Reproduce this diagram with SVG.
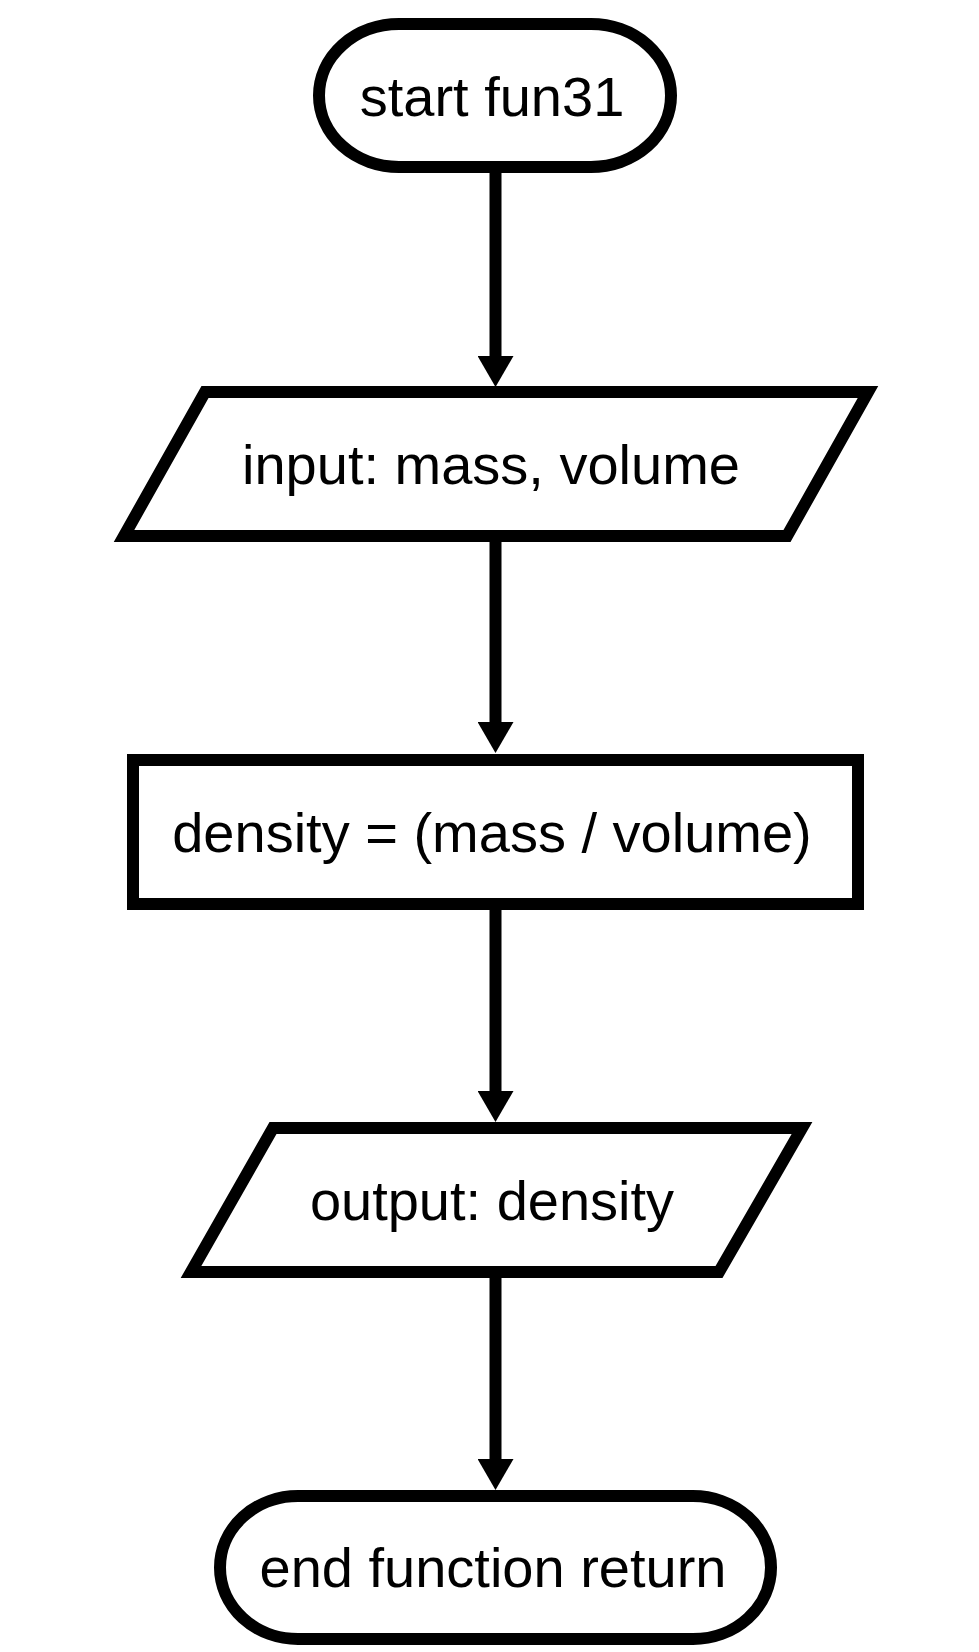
<svg xmlns="http://www.w3.org/2000/svg" width="979" height="1652" viewBox="0 0 979 1652">
<style>
.shape{fill:#ffffff;stroke:#000000;stroke-width:12;stroke-linejoin:miter}
.lbl{font-family:"Liberation Sans",Arial,sans-serif;font-size:56px;fill:#000000;text-anchor:middle}
.conn{stroke:#000000;stroke-width:12;fill:none}
</style>
<defs>
<marker id="ah" markerUnits="userSpaceOnUse" markerWidth="31" markerHeight="36" viewBox="0 0 31 36" refX="0" refY="18" orient="auto">
<path d="M0,0 L31,18 L0,36 z" fill="#000000"/>
</marker>
</defs>
<rect width="979" height="1652" fill="#ffffff"/>
<g id="connectors">
<line class="conn" x1="495.5" y1="173" x2="495.5" y2="356" marker-end="url(#ah)"/>
<line class="conn" x1="495.5" y1="542" x2="495.5" y2="722" marker-end="url(#ah)"/>
<line class="conn" x1="495.5" y1="910" x2="495.5" y2="1091" marker-end="url(#ah)"/>
<line class="conn" x1="495.5" y1="1278" x2="495.5" y2="1459" marker-end="url(#ah)"/>
</g>
<g id="start">
<rect class="shape" x="319" y="24" width="352" height="143" rx="80" ry="71.5"/>
<text class="lbl" x="492" y="116">start fun31</text>
</g>
<g id="input">
<polygon class="shape" points="205,392 868,392 787,536 124,536"/>
<text class="lbl" x="491" y="484">input: mass, volume</text>
</g>
<g id="process">
<rect class="shape" x="133" y="760" width="725" height="144"/>
<text class="lbl" x="492" y="852">density = (mass / volume)</text>
</g>
<g id="output">
<polygon class="shape" points="273,1128 802,1128 719,1272 191,1272"/>
<text class="lbl" x="492" y="1220">output: density</text>
</g>
<g id="end">
<rect class="shape" x="220" y="1496" width="551" height="143" rx="78" ry="71.5"/>
<text class="lbl" x="493" y="1587">end function return</text>
</g>
</svg>
